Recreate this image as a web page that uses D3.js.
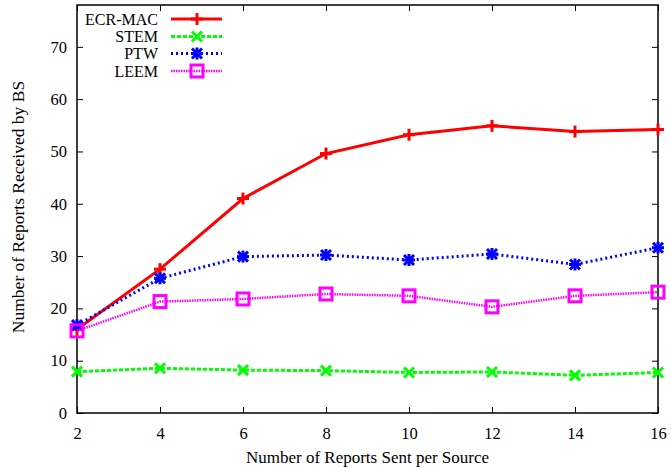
<!DOCTYPE html>
<html><head><meta charset="utf-8">
<script src="https://cdn.jsdelivr.net/npm/d3@7"></script>
<style>body{margin:0;background:#fff}svg{display:block}text{font-family:"Liberation Serif","Times New Roman",serif;}</style>
</head><body><svg id="c" width="671" height="470"></svg>
<script>
const xValues = [2, 4, 6, 8, 10, 12, 14, 16];
const ecrMac = [16.0, 27.5, 41.0, 49.6, 53.2, 54.9, 53.8, 54.2];
const stem   = [7.9, 8.55, 8.2, 8.1, 7.75, 7.85, 7.2, 7.75];
const ptw    = [16.8, 25.75, 29.9, 30.2, 29.25, 30.4, 28.4, 31.6];
const leem   = [15.7, 21.3, 21.8, 22.75, 22.4, 20.3, 22.4, 23.1];
const xTicks = [2, 4, 6, 8, 10, 12, 14, 16];
const yTicks = [0, 10, 20, 30, 40, 50, 60, 70];
const seriesNames = ["ECR-MAC", "STEM", "PTW", "LEEM"];

const series = [
  {name: seriesNames[0], values: ecrMac, color: "#ff0000", dash: null, width: 3, marker: "plus"},
  {name: seriesNames[1], values: stem, color: "#00ff00", dash: "4,2", width: 3, marker: "cross"},
  {name: seriesNames[2], values: ptw, color: "#0000ff", dash: "2,3", width: 3, marker: "star"},
  {name: seriesNames[3], values: leem, color: "#ff00ff", dash: "1.5,1", width: 2.5, marker: "square"}
];

const svg = d3.select("#c");
const L = 77, R = 658, T = 5, B = 413;
const x = d3.scaleLinear().domain([2, 16]).range([L, R]);
const y = d3.scaleLinear().domain([0, 78]).range([B, T]);
const fs = 16.5;

const g = svg.append("g");
const axBottom = g.append("g").attr("transform", `translate(0,${B})`)
  .call(d3.axisBottom(x).tickValues(xTicks).tickSizeInner(-6).tickSizeOuter(0).tickPadding(14));
const axTop = g.append("g").attr("transform", `translate(0,${T})`)
  .call(d3.axisTop(x).tickValues(xTicks).tickSizeInner(-6).tickSizeOuter(0).tickFormat(""));
const axLeft = g.append("g").attr("transform", `translate(${L},0)`)
  .call(d3.axisLeft(y).tickValues(yTicks).tickSizeInner(-6).tickSizeOuter(0).tickPadding(10));
const axRight = g.append("g").attr("transform", `translate(${R},0)`)
  .call(d3.axisRight(y).tickValues(yTicks).tickSizeInner(-6).tickSizeOuter(0).tickFormat(""));
[axBottom, axTop, axLeft, axRight].forEach(a => {
  a.select(".domain").remove();
  a.selectAll(".tick line").attr("stroke", "#000").attr("stroke-width", 1);
  a.selectAll("text").attr("font-size", fs).attr("fill", "#000")
    .style("font-family", '"Liberation Serif", serif');
});
axBottom.selectAll("text").attr("dy", "0.71em");
g.append("rect").attr("x", L).attr("y", T).attr("width", R - L).attr("height", B - T)
  .attr("fill", "none").attr("stroke", "#000").attr("stroke-width", 1.5);

svg.append("text").attr("x", (L + R) / 2).attr("y", 463).attr("text-anchor", "middle")
  .attr("font-size", 17).text("Number of Reports Sent per Source");
svg.append("text").attr("transform", `translate(24,${(T + B) / 2 - 2}) rotate(-90)`)
  .attr("text-anchor", "middle").attr("font-size", 17.5).text("Number of Reports Received by BS");

function drawMarker(sel, type, color, cx, cy) {
  const m = sel.append("g").attr("transform", `translate(${cx},${cy})`)
    .attr("stroke", color).attr("fill", "none").attr("stroke-width", 3);
  const s = 6;
  if (type === "plus" || type === "star") {
    m.append("line").attr("x1", -s).attr("x2", s).attr("y1", 0).attr("y2", 0);
    m.append("line").attr("x1", 0).attr("x2", 0).attr("y1", -s).attr("y2", s);
  }
  if (type === "cross" || type === "star") {
    const k = 5;
    m.append("line").attr("x1", -k).attr("x2", k).attr("y1", -k).attr("y2", k);
    m.append("line").attr("x1", -k).attr("x2", k).attr("y1", k).attr("y2", -k);
  }
  if (type === "square") {
    m.append("rect").attr("x", -6).attr("y", -6).attr("width", 12).attr("height", 12);
  }
}

const line = d3.line().x(d => x(d[0])).y(d => y(d[1]));
series.forEach(s => {
  const pts = xValues.map((xv, i) => [xv, s.values[i]]);
  svg.append("path").attr("d", line(pts)).attr("fill", "none")
    .attr("stroke", s.color).attr("stroke-width", s.width)
    .attr("stroke-dasharray", s.dash);
  pts.forEach(p => drawMarker(svg, s.marker, s.color, x(p[0]), y(p[1])));
});

const legY = [19, 36.5, 53.5, 71];
series.forEach((s, i) => {
  svg.append("text").attr("x", 158).attr("y", legY[i]).attr("dy", "0.35em")
    .attr("text-anchor", "end").attr("font-size", 16).text(s.name);
  svg.append("line").attr("x1", 171).attr("x2", 222).attr("y1", legY[i]).attr("y2", legY[i])
    .attr("stroke", s.color).attr("stroke-width", s.width).attr("stroke-dasharray", s.dash);
  drawMarker(svg, s.marker, s.color, 197, legY[i]);
});
</script></body></html>
